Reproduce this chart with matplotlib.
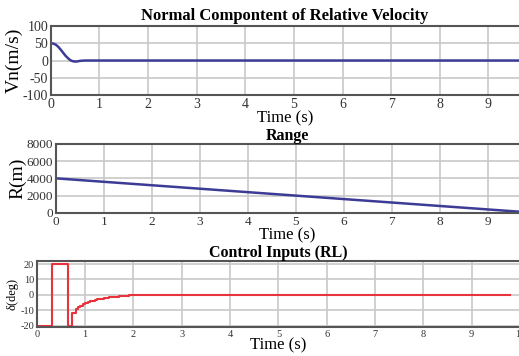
import numpy as np
import matplotlib.pyplot as plt

plt.rcParams['font.family'] = ['Liberation Serif', 'DejaVu Serif']
plt.rcParams['axes.unicode_minus'] = False

# normal component of relative velocity
t_vn = [0, 0.05, 0.1, 0.15, 0.2, 0.25, 0.3, 0.35, 0.4, 0.45, 0.5, 0.55, 0.6, 0.7, 9.7]
vn = [50, 49, 46, 40, 32, 23, 14, 7, 1, -2, -3, -2.5, -1, 0, 0]

# range
t_r = [0, 9.7]
rng = [4000, 120]

# control input (step values)
t_u = [0, 0.32, 0.65, 0.72, 0.8, 0.85, 0.9, 0.95, 1.0, 1.05, 1.1, 1.15, 1.2, 1.25,
       1.3, 1.35, 1.4, 1.5, 1.6, 1.7, 1.8, 1.9, 2.0, 9.8]
u = [-20, 20, -20, -12, -9, -8, -7, -6, -5, -4.6, -4.2, -3.8, -3.4, -3.0,
     -2.7, -2.4, -2.1, -1.6, -1.2, -0.8, -0.5, -0.2, 0, 0]

blue = '#3c3c96'
red = '#e8323c'
grid_c = '#c8c8c8'
spine_c = '#555555'

fig = plt.figure(figsize=(5.19, 3.56), dpi=100)


def style(ax, tsize):
    ax.grid(True, color=grid_c, linewidth=1.2)
    ax.set_axisbelow(True)
    for s in ['top', 'left', 'bottom']:
        ax.spines[s].set_color(spine_c)
        ax.spines[s].set_linewidth(1.5)
    ax.spines['right'].set_visible(False)
    ax.tick_params(length=0, labelsize=tsize, colors='#333333', pad=2)


ax1 = fig.add_axes([0.098, 0.733, 0.902, 0.194])
ax1.plot(t_vn, vn, color=blue, linewidth=1.8)
ax1.set_xlim(0, 9.63)
ax1.set_ylim(-100, 100)
ax1.set_xticks(range(10))
ax1.set_yticks([-100, -50, 0, 50, 100])
style(ax1, 10)
ax1.set_title('Normal Compontent of Relative Velocity', fontsize=12, fontweight='bold', pad=4)
ax1.set_ylabel('Vn(m/s)', fontsize=14, labelpad=0)
ax1.set_xlabel('Time (s)', fontsize=12, labelpad=0)

ax2 = fig.add_axes([0.108, 0.402, 0.892, 0.194])
ax2.plot(t_r, rng, color=blue, linewidth=1.8)
ax2.set_xlim(0, 9.65)
ax2.set_ylim(0, 8000)
ax2.set_xticks(range(10))
ax2.set_yticks([0, 2000, 4000, 6000, 8000])
style(ax2, 9.5)
ax2.set_title('Range', fontsize=11.5, fontweight='bold', pad=3)
ax2.set_ylabel('R(m)', fontsize=14, labelpad=0)
ax2.set_xlabel('Time (s)', fontsize=12, labelpad=0)

ax3 = fig.add_axes([0.071, 0.081, 0.931, 0.186])
ax3.step(t_u, u, where='post', color=red, linewidth=1.5)
ax3.set_xlim(0, 10)
ax3.set_ylim(-21, 22)
ax3.set_xticks(range(11))
ax3.set_yticks([-20, -10, 0, 10, 20])
style(ax3, 7.5)
ax3.set_title('Control Inputs (RL)', fontsize=11.5, fontweight='bold', pad=3)
ax3.set_ylabel('δ(deg)', fontsize=9, labelpad=1)
ax3.set_xlabel('Time (s)', fontsize=12, labelpad=-1)

fig.savefig('out.png', dpi=100)
